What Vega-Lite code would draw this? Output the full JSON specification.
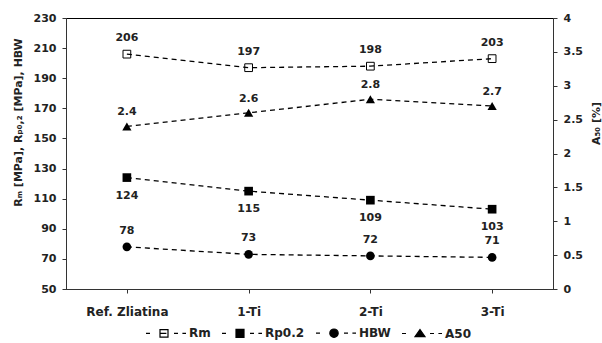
{
  "$schema": "https://vega.github.io/schema/vega-lite/v6.json",
  "width": 487,
  "height": 271,
  "autosize": "none",
  "padding": {"left": 66, "top": 18, "right": 49, "bottom": 54},
  "data": {
    "values": [
      {"alloy": "Ref. Zliatina", "series": "Rm", "value": 206},
      {"alloy": "1-Ti", "series": "Rm", "value": 197},
      {"alloy": "2-Ti", "series": "Rm", "value": 198},
      {"alloy": "3-Ti", "series": "Rm", "value": 203},
      {"alloy": "Ref. Zliatina", "series": "Rp0.2", "value": 124},
      {"alloy": "1-Ti", "series": "Rp0.2", "value": 115},
      {"alloy": "2-Ti", "series": "Rp0.2", "value": 109},
      {"alloy": "3-Ti", "series": "Rp0.2", "value": 103},
      {"alloy": "Ref. Zliatina", "series": "HBW", "value": 78},
      {"alloy": "1-Ti", "series": "HBW", "value": 73},
      {"alloy": "2-Ti", "series": "HBW", "value": 72},
      {"alloy": "3-Ti", "series": "HBW", "value": 71},
      {"alloy": "Ref. Zliatina", "series": "A50", "value": 2.4},
      {"alloy": "1-Ti", "series": "A50", "value": 2.6},
      {"alloy": "2-Ti", "series": "A50", "value": 2.8},
      {"alloy": "3-Ti", "series": "A50", "value": 2.7}
    ]
  },
  "config": {
    "font": "DejaVu Sans",
    "view": {"stroke": "black", "strokeWidth": 1},
    "axis": {
      "labelFont": "DejaVu Sans",
      "labelFontSize": 11,
      "labelFontWeight": "bold",
      "labelColor": "#222",
      "titleFont": "DejaVu Sans",
      "titleFontSize": 11,
      "titleFontWeight": "bold",
      "titleColor": "#222",
      "domainColor": "#333",
      "tickColor": "#333",
      "tickSize": 4,
      "grid": false
    },
    "legend": {
      "labelFont": "DejaVu Sans",
      "labelFontSize": 12,
      "labelFontWeight": "bold",
      "labelColor": "#222"
    }
  },
  "encoding": {
    "x": {
      "field": "alloy",
      "type": "nominal",
      "sort": ["Ref. Zliatina", "1-Ti", "2-Ti", "3-Ti"],
      "scale": {"type": "point", "padding": 0.5},
      "axis": {"title": null, "labelAngle": 0, "labelPadding": 13, "labelFontSize": 12}
    }
  },
  "layer": [
    {
      "encoding": {
        "y": {
          "field": "value",
          "type": "quantitative",
          "scale": {"domain": [50, 230], "nice": false, "zero": false},
          "axis": {
            "values": [50, 70, 90, 110, 130, 150, 170, 190, 210, 230],
            "title": "Rₘ [MPa], Rₚ₀,₂ [MPa], HBW",
            "labelPadding": 6,
            "titleY": 104,
            "titlePadding": 10
          }
        }
      },
      "layer": [
        {
          "transform": [{"filter": "datum.series === 'Rm'"}],
          "mark": {"type": "point", "shape": "square", "filled": true, "fill": "white", "stroke": "black", "strokeWidth": 1, "size": 60, "opacity": 1}
        },
        {
          "transform": [{"filter": "datum.series === 'Rp0.2'"}],
          "mark": {"type": "point", "shape": "square", "filled": true, "fill": "black", "size": 75, "opacity": 1}
        },
        {
          "transform": [{"filter": "datum.series === 'HBW'"}],
          "mark": {"type": "point", "shape": "circle", "filled": true, "fill": "black", "size": 75, "opacity": 1}
        },
        {
          "transform": [{"filter": "datum.series !== 'A50'"}],
          "mark": {"type": "line", "color": "black", "strokeWidth": 1.3, "strokeDash": [5, 4]},
          "encoding": {"detail": {"field": "series"}}
        },
        {
          "transform": [{"filter": "datum.series === 'Rm' || datum.series === 'HBW'"}],
          "mark": {"type": "text", "dy": -16, "font": "DejaVu Sans", "fontSize": 11, "fontWeight": "bold", "color": "#222"},
          "encoding": {"text": {"field": "value", "type": "quantitative"}}
        },
        {
          "transform": [{"filter": "datum.series === 'Rp0.2'"}],
          "mark": {"type": "text", "dy": 18, "font": "DejaVu Sans", "fontSize": 11, "fontWeight": "bold", "color": "#222"},
          "encoding": {"text": {"field": "value", "type": "quantitative"}}
        },
        {
          "transform": [{"filter": "datum.series === 'none'"}],
          "mark": {"type": "point", "filled": true, "stroke": "black", "strokeWidth": 1, "opacity": 1},
          "encoding": {
            "shape": {
              "field": "series",
              "type": "nominal",
              "scale": {
                "domain": ["Rm", "Rp0.2", "HBW", "A50"],
                "range": [
                  "M-1,0H-0.8M-0.3,0H0.02M0.4,0H0.6M0.82,0H1M-0.3,-0.19H0.1V0.19H-0.3Z",
                  "M-1,0H-0.8M0.4,0H0.6M0.82,0H1M-0.3,-0.2H0.1V0.2H-0.3Z",
                  "M-1,0H-0.8M0.4,0H0.6M0.82,0H1M-0.31,0A0.21,0.21 0 1,0 0.11,0A0.21,0.21 0 1,0 -0.31,0Z",
                  "M-1,0H-0.8M0.4,0H0.6M0.82,0H1M-0.1,-0.2L0.15,0.16L-0.35,0.16Z"
                ]
              },
              "legend": {
                "title": null,
                "orient": "none",
                "legendX": 79,
                "legendY": 294,
                "direction": "horizontal",
                "symbolSize": 1600,
                "symbolStrokeColor": "black",
                "symbolStrokeWidth": 1.2,
                "symbolOpacity": 1,
                "columnPadding": 8,
                "labelOffset": 2,
                "encode": {
                  "symbols": {
                    "update": {
                      "stroke": {"value": "black"},
                      "strokeWidth": {"value": 1.2},
                      "opacity": {"value": 1}
                    }
                  }
                }
              }
            },
            "fill": {
              "field": "series",
              "type": "nominal",
              "scale": {
                "domain": ["Rm", "Rp0.2", "HBW", "A50"],
                "range": ["white", "black", "black", "black"]
              },
              "legend": {
                "title": null,
                "orient": "none",
                "legendX": 79,
                "legendY": 294,
                "direction": "horizontal",
                "symbolSize": 1600,
                "symbolStrokeColor": "black",
                "symbolStrokeWidth": 1.2,
                "symbolOpacity": 1,
                "columnPadding": 8,
                "labelOffset": 2,
                "encode": {
                  "symbols": {
                    "update": {
                      "stroke": {"value": "black"},
                      "strokeWidth": {"value": 1.2},
                      "opacity": {"value": 1}
                    }
                  }
                }
              }
            }
          }
        }
      ]
    },
    {
      "transform": [{"filter": "datum.series === 'A50'"}],
      "encoding": {
        "y": {
          "field": "value",
          "type": "quantitative",
          "scale": {"domain": [0, 4], "nice": false},
          "axis": {
            "orient": "right",
            "values": [0, 0.5, 1, 1.5, 2, 2.5, 3, 3.5, 4],
            "format": ".2~f",
            "title": "A₅₀ [%]",
            "titleAngle": -90,
            "labelPadding": 6,
            "titleY": 105,
            "titlePadding": 19
          }
        }
      },
      "layer": [
        {
          "mark": {"type": "point", "shape": "triangle-up", "filled": true, "fill": "black", "size": 85, "opacity": 1}
        },
        {
          "mark": {"type": "line", "color": "black", "strokeWidth": 1.3, "strokeDash": [5, 4]}
        },
        {
          "mark": {"type": "text", "dy": -14, "font": "DejaVu Sans", "fontSize": 11, "fontWeight": "bold", "color": "#222"},
          "encoding": {"text": {"field": "value", "type": "quantitative", "format": ".1f"}}
        }
      ]
    }
  ],
  "resolve": {"scale": {"y": "independent"}}
}
